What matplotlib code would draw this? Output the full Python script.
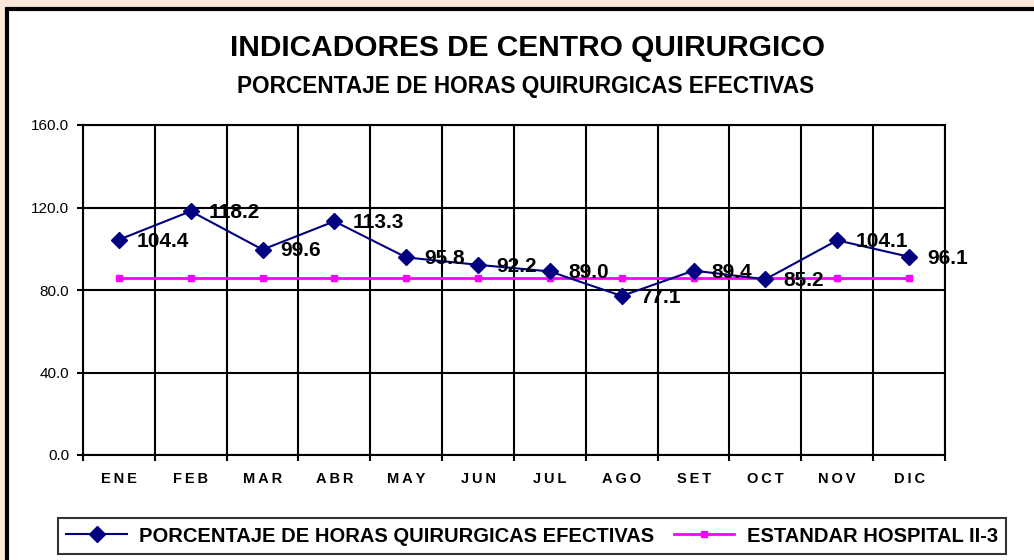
import matplotlib
matplotlib.use("Agg")
import matplotlib.pyplot as plt
from matplotlib.patches import Rectangle
from matplotlib.ticker import FixedLocator, NullFormatter

months = ["ENE", "FEB", "MAR", "ABR", "MAY", "JUN", "JUL", "AGO", "SET", "OCT", "NOV", "DIC"]
porcentaje = [104.4, 118.2, 99.6, 113.3, 95.8, 92.2, 89.0, 77.1, 89.4, 85.2, 104.1, 96.1]
estandar = [86.0] * 12
yticks = [0, 40, 80, 120, 160]

plt.rcParams['font.family'] = ['Liberation Sans', 'DejaVu Sans']

fig = plt.figure(figsize=(10.34, 5.6), dpi=100)
fig.patch.set_facecolor('#FDE9D9')
fig.patches.append(Rectangle((7/1034, -0.05), 1.1, 1 - 9/560 + 0.05, transform=fig.transFigure,
                             facecolor='white', edgecolor='black', linewidth=3, zorder=-10))

ax = fig.add_axes([83/1034, 1 - 455/560, (945 - 83)/1034, (455 - 125)/560])
ax.set_facecolor('white')
x = list(range(len(months)))
ax.plot(x, porcentaje, color='#000080', linewidth=1.5, marker='D', markersize=8.5,
        markerfacecolor='#000080', markeredgecolor='#000080', zorder=4,
        label='PORCENTAJE DE HORAS QUIRURGICAS EFECTIVAS')
ax.plot(x, estandar, color='#FF00FF', linewidth=2, marker='s', markersize=4,
        markerfacecolor='#FF00FF', markeredgecolor='#FF00FF', zorder=3,
        label='ESTANDAR HOSPITAL II-3')

for xi, v in zip(x, porcentaje):
    ax.annotate(f"{v:.1f}", (xi, v), xytext=(13, -1), textcoords='offset points',
                ha='left', va='center', fontsize=15, fontweight='bold', color='black', zorder=5)

ax.set_xlim(-0.5, len(months) - 0.5)
ax.set_ylim(0, 160)
ax.set_yticks(yticks)
ax.set_yticklabels([f"{t:.1f}" for t in yticks], fontsize=11)
ax.set_xticks(x)
ax.set_xticklabels(["\u2009".join(m) for m in months], fontsize=10.5, fontweight='bold')
ax.xaxis.set_minor_locator(FixedLocator([i - 0.5 for i in range(len(months) + 1)]))
ax.xaxis.set_minor_formatter(NullFormatter())
ax.tick_params(axis='x', which='major', length=0, pad=12)
ax.tick_params(axis='x', which='minor', length=4, width=1.5, direction='out')
ax.tick_params(axis='y', which='major', length=4, width=1.5, pad=6)
ax.grid(True, axis='y', which='major', color='black', linewidth=1.5)
ax.grid(True, axis='x', which='minor', color='black', linewidth=1.5)
ax.set_axisbelow(True)
for s in ax.spines.values():
    s.set_color('black')
    s.set_linewidth(1.5)

fig.text(528/1034, 1 - 48/560, "INDICADORES DE CENTRO QUIRURGICO", ha='center', va='center',
         fontsize=21.5, fontweight='bold')
fig.text(526/1034, 1 - 86/560, "PORCENTAJE DE HORAS QUIRURGICAS EFECTIVAS", ha='center', va='center',
         fontsize=16.3, fontweight='bold')

leg = fig.legend(loc='center', bbox_to_anchor=(532/1034, 1 - 536/560), ncol=2,
                 prop={'size': 14.5, 'weight': 'bold'}, frameon=True, fancybox=False,
                 edgecolor='black', handlelength=3.0, columnspacing=1.0, handletextpad=0.6,
                 borderpad=0.4)
leg.get_frame().set_linewidth(1.5)

fig.savefig('out.png', dpi=100, facecolor=fig.get_facecolor())
